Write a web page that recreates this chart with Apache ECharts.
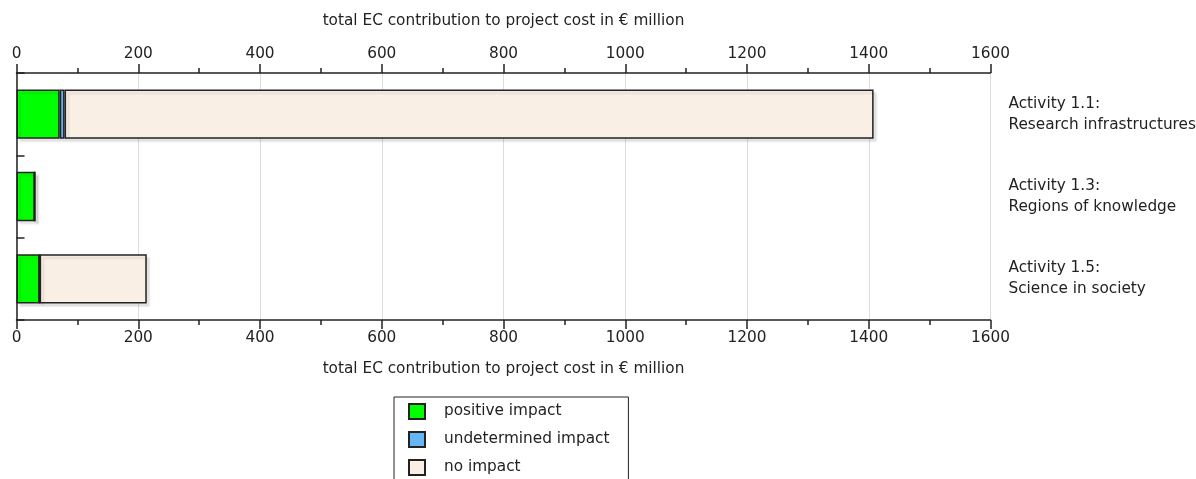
<!DOCTYPE html>
<html><head><meta charset="utf-8">
<script src="https://cdn.jsdelivr.net/npm/echarts@6/dist/echarts.min.js"></script>
<style>html,body{margin:0;padding:0;background:#fff}#c{width:1196px;height:479px}</style>
</head><body><div id="c"></div>
<script>
const categories = ['Activity 1.1:\nResearch infrastructures', 'Activity 1.3:\nRegions of knowledge', 'Activity 1.5:\nScience in society'];
const positiveImpact = [71, 30, 38];
const undeterminedImpact = [8, 0, 0];
const noImpact = [1329, 0, 176];
const seriesNames = ['positive impact', 'undetermined impact', 'no impact'];
const seriesColors = ['#00ff00', '#66b5f5', '#faefe5'];
const axisName = 'total EC contribution to project cost in € million';

const FONT = 'DejaVu Sans';
const FS = 15.3;
const chart = echarts.init(document.getElementById('c'), null, {renderer: 'canvas'});
const xAxisCommon = {
  type: 'value', min: 0, max: 1600, interval: 200,
  name: axisName, nameLocation: 'middle',
  nameTextStyle: {fontFamily: FONT, fontSize: FS, color: '#222'},
  axisLine: {show: true, lineStyle: {color: '#222', width: 1.5}},
  axisTick: {show: true, length: 9, lineStyle: {color: '#222', width: 1.5}},
  minorTick: {show: true, splitNumber: 2, length: 5, lineStyle: {color: '#222', width: 1.5}},
  axisLabel: {fontFamily: FONT, fontSize: FS, color: '#222', formatter: (v) => String(v)},
  splitLine: {show: true, lineStyle: {color: '#dddddd', width: 1}}
};
const barStyle = (i) => ({
  color: seriesColors[i], borderColor: '#222', borderWidth: 1.5,
  shadowColor: 'rgba(0,0,0,0.10)', shadowOffsetX: 3, shadowOffsetY: 3, shadowBlur: 2
});
const dataSets = [positiveImpact, undeterminedImpact, noImpact];
chart.setOption({
  animation: false,
  grid: {left: 16.5, right: 205.5, top: 73, bottom: 159, containLabel: false, outerBoundsMode: 'none'},
  legend: {
    orient: 'vertical', left: 394, top: 397, height: 300,
    itemWidth: 16, itemHeight: 15, itemGap: 11,
    padding: [6, 19, 20, 14],
    borderColor: '#222', borderWidth: 1,
    textStyle: {fontFamily: FONT, fontSize: FS, color: '#222', padding: [0, 0, 0, 14]},
    icon: 'rect',
    data: seriesNames
  },
  xAxis: [
    Object.assign({}, xAxisCommon, {position: 'top', nameGap: 44, axisLabel: Object.assign({}, xAxisCommon.axisLabel, {margin: 11})}),
    Object.assign({}, xAxisCommon, {position: 'bottom', nameGap: 42, axisLabel: Object.assign({}, xAxisCommon.axisLabel, {margin: 11})})
  ],
  yAxis: [
    {type: 'category', data: categories, inverse: true, position: 'left',
     axisLine: {show: true, lineStyle: {color: '#222', width: 1.5}},
     axisTick: {show: true, inside: true, length: 8, lineStyle: {color: '#222', width: 1.5}},
     axisLabel: {show: false}, splitLine: {show: false}},
    {type: 'category', data: categories, inverse: true, position: 'right',
     axisLine: {show: false}, axisTick: {show: false}, splitLine: {show: false},
     axisLabel: {show: true, align: 'left', margin: 18, fontFamily: FONT, fontSize: FS, color: '#222', lineHeight: 21}}
  ],
  series: dataSets.map((d, i) => ({
    name: seriesNames[i], type: 'bar', stack: 'total', xAxisIndex: 0, yAxisIndex: 0,
    barCategoryGap: '40%', data: d, itemStyle: barStyle(i)
  }))
});
</script></body></html>
